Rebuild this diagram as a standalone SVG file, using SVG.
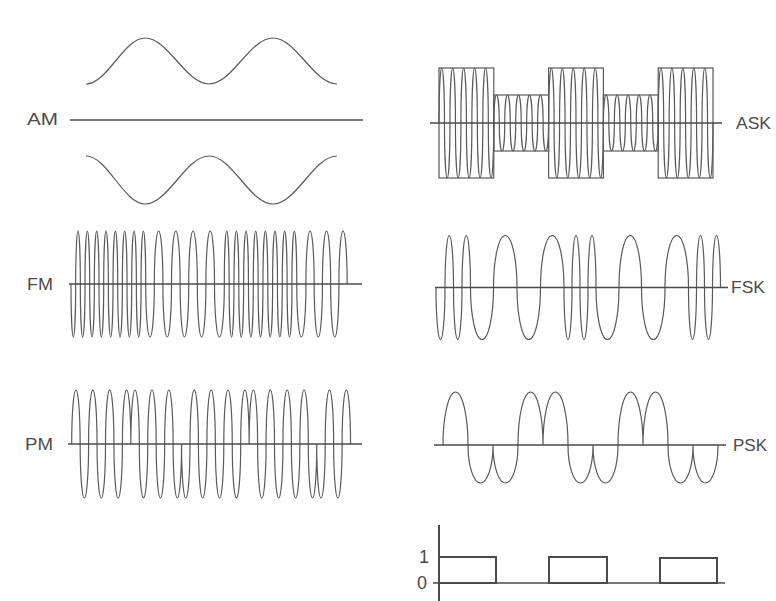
<svg xmlns="http://www.w3.org/2000/svg" width="776" height="601" viewBox="0 0 776 601">
<style>
.w{fill:none;stroke:#5a5a5a;stroke-width:1.2}
.ax{fill:none;stroke:#4a4a4a;stroke-width:1.4}
.bx{fill:none;stroke:#4a4a4a;stroke-width:2}
.lbl{font-family:"Liberation Sans",Arial,sans-serif;font-size:16.5px;fill:#4a4a4a}
.num{font-family:"Liberation Sans",Arial,sans-serif;font-size:18px;fill:#4a4a4a}
</style>
<rect width="776" height="601" fill="#ffffff"/>
<g id="am">
<path class="w" d="M86,84 C107.4,84 123.6,38 145,38 C168.26,38 185.74,84 209,84 S249.74,38 273,38 S313.74,84 337,84"/>
<line class="ax" x1="70" y1="120" x2="363" y2="120"/>
<path class="w" d="M86,156 C107.4,156 123.6,204 145,204 C168.26,204 185.74,156 209,156 S249.74,204 273,204 S313.74,156 337,156"/>
<text class="lbl" x="27" y="125" textLength="31" lengthAdjust="spacingAndGlyphs">AM</text>
</g>
<g id="ask">
<path class="w" d="M439,123
a2.74,55 0 0 1 5.48,0 a2.74,55 0 0 0 5.48,0 a2.74,55 0 0 1 5.48,0 a2.74,55 0 0 0 5.48,0 a2.74,55 0 0 1 5.48,0 a2.74,55 0 0 0 5.48,0 a2.74,55 0 0 1 5.48,0 a2.74,55 0 0 0 5.48,0 a2.74,55 0 0 1 5.48,0 a2.74,55 0 0 0 5.48,0
a2.74,28 0 0 1 5.48,0 a2.74,28 0 0 0 5.48,0 a2.74,28 0 0 1 5.48,0 a2.74,28 0 0 0 5.48,0 a2.74,28 0 0 1 5.48,0 a2.74,28 0 0 0 5.48,0 a2.74,28 0 0 1 5.48,0 a2.74,28 0 0 0 5.48,0 a2.74,28 0 0 1 5.48,0 a2.74,28 0 0 0 5.48,0
a2.74,55 0 0 1 5.48,0 a2.74,55 0 0 0 5.48,0 a2.74,55 0 0 1 5.48,0 a2.74,55 0 0 0 5.48,0 a2.74,55 0 0 1 5.48,0 a2.74,55 0 0 0 5.48,0 a2.74,55 0 0 1 5.48,0 a2.74,55 0 0 0 5.48,0 a2.74,55 0 0 1 5.48,0 a2.74,55 0 0 0 5.48,0
a2.74,28 0 0 1 5.48,0 a2.74,28 0 0 0 5.48,0 a2.74,28 0 0 1 5.48,0 a2.74,28 0 0 0 5.48,0 a2.74,28 0 0 1 5.48,0 a2.74,28 0 0 0 5.48,0 a2.74,28 0 0 1 5.48,0 a2.74,28 0 0 0 5.48,0 a2.74,28 0 0 1 5.48,0 a2.74,28 0 0 0 5.48,0
a2.74,55 0 0 1 5.48,0 a2.74,55 0 0 0 5.48,0 a2.74,55 0 0 1 5.48,0 a2.74,55 0 0 0 5.48,0 a2.74,55 0 0 1 5.48,0 a2.74,55 0 0 0 5.48,0 a2.74,55 0 0 1 5.48,0 a2.74,55 0 0 0 5.48,0 a2.74,55 0 0 1 5.48,0 a2.74,55 0 0 0 5.48,0"/>
<rect class="w" x="439" y="68" width="54.8" height="110"/>
<rect class="w" x="493.8" y="95" width="54.8" height="56"/>
<rect class="w" x="548.6" y="68" width="54.8" height="110"/>
<rect class="w" x="603.4" y="95" width="54.8" height="56"/>
<rect class="w" x="658.2" y="68" width="54.8" height="110"/>
<line class="ax" x1="430" y1="123" x2="722" y2="123"/>
<text class="lbl" x="736" y="129" textLength="35" lengthAdjust="spacingAndGlyphs">ASK</text>
</g>
<g id="fm">
<path class="w" d="M71,284
a2.335,53 0 0 0 4.67,0 a2.335,53 0 0 1 4.67,0 a2.335,53 0 0 0 4.67,0 a2.335,53 0 0 1 4.67,0 a2.335,53 0 0 0 4.67,0 a2.335,53 0 0 1 4.67,0 a2.335,53 0 0 0 4.67,0 a2.335,53 0 0 1 4.67,0
a2.335,53 0 0 0 4.67,0 a2.335,53 0 0 1 4.67,0 a2.335,53 0 0 0 4.67,0 a2.335,53 0 0 1 4.67,0 a2.335,53 0 0 0 4.67,0 a2.335,53 0 0 1 4.67,0 a2.335,53 0 0 0 4.67,0 a2.335,53 0 0 1 4.67,0
a4.3,53 0 0 0 8.6,0 a4.3,53 0 0 1 8.6,0 a4.3,53 0 0 0 8.6,0 a4.3,53 0 0 1 8.6,0 a4.3,53 0 0 0 8.6,0 a4.3,53 0 0 1 8.6,0 a4.3,53 0 0 0 8.6,0 a4.3,53 0 0 1 8.6,0
a4.9,53 0 0 0 9.8,0
a2.415,53 0 0 1 4.83,0
a2.415,53 0 0 0 4.83,0 a2.415,53 0 0 1 4.83,0 a2.415,53 0 0 0 4.83,0 a2.415,53 0 0 1 4.83,0 a2.415,53 0 0 0 4.83,0 a2.415,53 0 0 1 4.83,0 a2.415,53 0 0 0 4.83,0 a2.415,53 0 0 1 4.83,0
a2.415,53 0 0 0 4.83,0 a2.415,53 0 0 1 4.83,0 a2.415,53 0 0 0 4.83,0 a2.415,53 0 0 1 4.83,0 a2.415,53 0 0 0 4.83,0 a2.415,53 0 0 1 4.83,0
a4.575,53 0 0 0 9.15,0
a4.125,53 0 0 1 8.25,0 a4.125,53 0 0 0 8.25,0 a4.125,53 0 0 1 8.25,0 a4.125,53 0 0 0 8.25,0 a4.125,53 0 0 1 8.25,0"/>
<line class="ax" x1="69" y1="284" x2="362" y2="284"/>
<text class="lbl" x="27" y="290" textLength="26" lengthAdjust="spacingAndGlyphs">FM</text>
</g>
<g id="fsk">
<path class="w" d="M436,287.5
a4.5,52 0 0 0 9,0 a4.25,52 0 0 1 8.5,0 a4.25,52 0 0 0 8.5,0 a4.25,52 0 0 1 8.5,0
a11.5,52 0 0 0 23,0 a11.75,52 0 0 1 23.5,0 a11.75,52 0 0 0 23.5,0 a11.75,52 0 0 1 23.5,0
a4,52 0 0 0 8,0 a4,52 0 0 1 8,0 a4,52 0 0 0 8,0 a4,52 0 0 1 8,0
a11.5,52 0 0 0 23,0 a11.25,52 0 0 1 22.5,0 a11.75,52 0 0 0 23.5,0 a11.75,52 0 0 1 23.5,0
a4,52 0 0 0 8,0 a4,52 0 0 1 8,0 a4,52 0 0 0 8,0 a4,52 0 0 1 8,0"/>
<line class="ax" x1="435" y1="287.5" x2="728" y2="287.5"/>
<text class="lbl" x="731" y="293" textLength="34" lengthAdjust="spacingAndGlyphs">FSK</text>
</g>
<g id="pm">
<path class="w" d="M71.7,444
a4.225,54 0 0 1 8.45,0 a4.225,54 0 0 0 8.45,0 a4.225,54 0 0 1 8.45,0 a4.225,54 0 0 0 8.45,0 a4.225,54 0 0 1 8.45,0 a4.225,54 0 0 0 8.45,0 a4.225,54 0 0 1 8.45,0
a4.225,54 0 0 1 8.45,0 a4.225,54 0 0 0 8.45,0 a4.225,54 0 0 1 8.45,0 a4.225,54 0 0 0 8.45,0 a4.225,54 0 0 1 8.45,0 a4.225,54 0 0 0 8.45,0
a4.225,54 0 0 0 8.45,0 a4.225,54 0 0 1 8.45,0 a4.225,54 0 0 0 8.45,0 a4.225,54 0 0 1 8.45,0 a4.225,54 0 0 0 8.45,0 a4.225,54 0 0 1 8.45,0 a4.225,54 0 0 0 8.45,0 a4.225,54 0 0 1 8.45,0
a4.225,54 0 0 1 8.45,0 a4.225,54 0 0 0 8.45,0 a4.225,54 0 0 1 8.45,0 a4.225,54 0 0 0 8.45,0 a4.225,54 0 0 1 8.45,0 a4.225,54 0 0 0 8.45,0 a4.225,54 0 0 1 8.45,0 a4.225,54 0 0 0 8.45,0
a4.225,54 0 0 0 8.45,0 a4.225,54 0 0 1 8.45,0 a4.225,54 0 0 0 8.45,0 a4.225,54 0 0 1 8.45,0"/>
<line class="ax" x1="68" y1="444" x2="362" y2="444"/>
<text class="lbl" x="25" y="450" textLength="28" lengthAdjust="spacingAndGlyphs">PM</text>
</g>
<g id="psk">
<path class="w" d="M443,445
a12.5,53 0 0 1 25,0 a12.5,38 0 0 0 25,0 a12.5,38 0 0 0 25,0 a12.5,53 0 0 1 25,0 a12.5,53 0 0 1 25,0 a12.5,38 0 0 0 25,0 a12.5,38 0 0 0 25,0 a12.5,53 0 0 1 25,0 a12.5,53 0 0 1 25,0 a12.5,38 0 0 0 25,0 a12.5,38 0 0 0 25,0"/>
<line class="ax" x1="434" y1="445" x2="726" y2="445"/>
<text class="lbl" x="733" y="451" textLength="34" lengthAdjust="spacingAndGlyphs">PSK</text>
</g>
<g id="bits">
<line class="bx" x1="439" y1="525" x2="439" y2="601"/>
<line class="ax" x1="433" y1="583" x2="725" y2="583"/>
<rect class="bx" x="439" y="557" width="57" height="26"/>
<rect class="bx" x="549" y="557" width="58" height="26"/>
<rect class="bx" x="660" y="558" width="57" height="25"/>
<text class="num" x="419" y="563">1</text>
<text class="num" x="417" y="589">0</text>
</g>
</svg>
